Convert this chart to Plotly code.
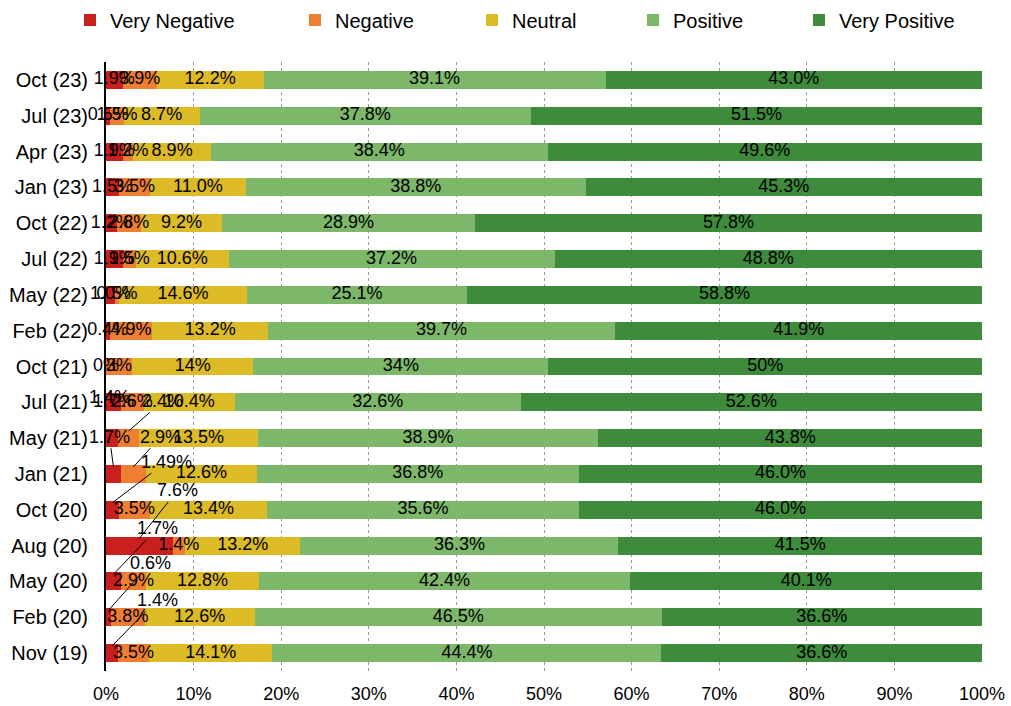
import plotly.graph_objects as go

# Survey waves, top to bottom
periods = ["Oct (23)", "Jul (23)", "Apr (23)", "Jan (23)", "Oct (22)", "Jul (22)",
           "May (22)", "Feb (22)", "Oct (21)", "Jul (21)", "May (21)", "Jan (21)",
           "Oct (20)", "Aug (20)", "May (20)", "Feb (20)", "Nov (19)"]

# Shares in percent, kept as text so the printed precision is preserved
very_negative = ["1.9", "0.5", "1.9", "1.5", "1.2", "1.9", "1.0", "0.4", "0", "1.7",
                 "1.4", "1.7", "1.49", "7.6", "1.7", "0.6", "1.4"]
negative = ["3.9", "1.5", "1.2", "3.5", "2.8", "1.5", "0.5", "4.9", "3", "2.6",
            "2.4", "2.9", "3.5", "1.4", "2.9", "3.8", "3.5"]
neutral = ["12.2", "8.7", "8.9", "11.0", "9.2", "10.6", "14.6", "13.2", "14", "10.4",
           "13.5", "12.6", "13.4", "13.2", "12.8", "12.6", "14.1"]
positive = ["39.1", "37.8", "38.4", "38.8", "28.9", "37.2", "25.1", "39.7", "34", "32.6",
            "38.9", "36.8", "35.6", "36.3", "42.4", "46.5", "44.4"]
very_positive = ["43.0", "51.5", "49.6", "45.3", "57.8", "48.8", "58.8", "41.9", "50", "52.6",
                 "43.8", "46.0", "46.0", "41.5", "40.1", "36.6", "36.6"]

x_ticks = [0, 10, 20, 30, 40, 50, 60, 70, 80, 90, 100]

series_names = ["Very Negative", "Negative", "Neutral", "Positive", "Very Positive"]
series_values = [very_negative, negative, neutral, positive, very_positive]
series_colors = ["#C8201F", "#EE7E32", "#DCBB27", "#7DB76A", "#3E8B3C"]

# Small-segment labels pulled out of their bar: (series, period) -> (dx px, dy px, leader line)
callouts = {
    ("Very Negative", "May (21)"): (-3, 41, False),
    ("Negative", "May (21)"): (34, -30, True),
    ("Very Negative", "Jan (21)"): (-4, -30, True),
    ("Negative", "Jan (21)"): (27, -30, True),
    ("Very Negative", "Oct (20)"): (54, -41, True),
    ("Very Negative", "Aug (20)"): (38, -48, True),
    ("Very Negative", "May (20)"): (44, -46, True),
    ("Very Negative", "Feb (20)"): (42, -47, True),
    ("Very Negative", "Nov (19)"): (45, -46, True),
}

FONT = "Liberation Sans, Arial, sans-serif"
numbers = [[float(s) for s in col] for col in series_values]
totals = [sum(col[i] for col in numbers) for i in range(len(periods))]

fig = go.Figure()
legend_ids = ["legend", "legend2", "legend3", "legend4", "legend5"]
for k, name in enumerate(series_names):
    fig.add_trace(go.Bar(
        y=periods, x=numbers[k], orientation="h", name=name,
        marker=dict(color=series_colors[k], line=dict(width=0)),
        legend=legend_ids[k], hoverinfo="skip",
    ))

# Segment labels at the middle of each (normalised) segment
annotations = []
start = [0.0] * len(periods)
for k, name in enumerate(series_names):
    xs, ys, texts = [], [], []
    for i, p in enumerate(periods):
        share = numbers[k][i] / totals[i] * 100
        mid = start[i] + share / 2
        start[i] += share
        label = series_values[k][i] + "%"
        key = (name, p)
        if key in callouts:
            dx, dy, leader = callouts[key]
            if leader:
                annotations.append(dict(
                    x=mid, y=i - 0.2, xref="x", yref="y", text=label,
                    showarrow=True, ax=dx, ay=dy, arrowhead=0, arrowwidth=1,
                    arrowcolor="black", standoff=0, startstandoff=0,
                    font=dict(size=18, color="black", family=FONT),
                ))
            else:
                annotations.append(dict(
                    x=mid, y=i, xref="x", yref="y", text=label, showarrow=False,
                    xshift=dx, yshift=dy,
                    font=dict(size=18, color="black", family=FONT),
                ))
            continue
        xs.append(mid)
        ys.append(p)
        texts.append(label)
    fig.add_trace(go.Scatter(
        x=xs, y=ys, text=texts, mode="text", textposition="middle center",
        textfont=dict(size=18, color="black", family=FONT),
        showlegend=False, hoverinfo="skip", cliponaxis=False,
    ))

# One single-entry legend per series, spread along the top
legend_px = [70, 295, 472, 633, 799]
plot_left, plot_width = 106, 876
plot_top, plot_height = 62, 609
legends = {}
for k, lid in enumerate(legend_ids):
    legends[lid] = dict(
        orientation="h", x=(legend_px[k] - plot_left) / plot_width, xanchor="left",
        y=(plot_top + plot_height - 20) / plot_height, yanchor="middle",
        font=dict(size=20, color="black", family=FONT),
        bgcolor="rgba(0,0,0,0)", borderwidth=0,
    )

fig.update_layout(
    width=1011, height=706,
    margin=dict(l=106, r=29, t=62, b=35, autoexpand=False),
    paper_bgcolor="white", plot_bgcolor="white",
    barmode="stack", barnorm="percent", bargap=0.5,
    font=dict(family=FONT, color="black"),
    annotations=annotations,
    xaxis=dict(
        range=[0, 100], tickmode="array", tickvals=x_ticks,
        ticktext=[f"{v}%" for v in x_ticks],
        showgrid=True, gridcolor="#9A9A9A", gridwidth=1, griddash="3px,3px",
        zeroline=False, showline=False, ticks="",
        tickfont=dict(size=18, color="black", family=FONT), ticklabelstandoff=10,
    ),
    yaxis=dict(
        range=[len(periods) - 0.5, -0.5], showline=True, linecolor="black", linewidth=2,
        showgrid=False, zeroline=False, ticks="",
        tickfont=dict(size=20, color="black", family=FONT), ticklabelstandoff=12,
    ),
    **legends,
)

fig.write_html("out.html")
